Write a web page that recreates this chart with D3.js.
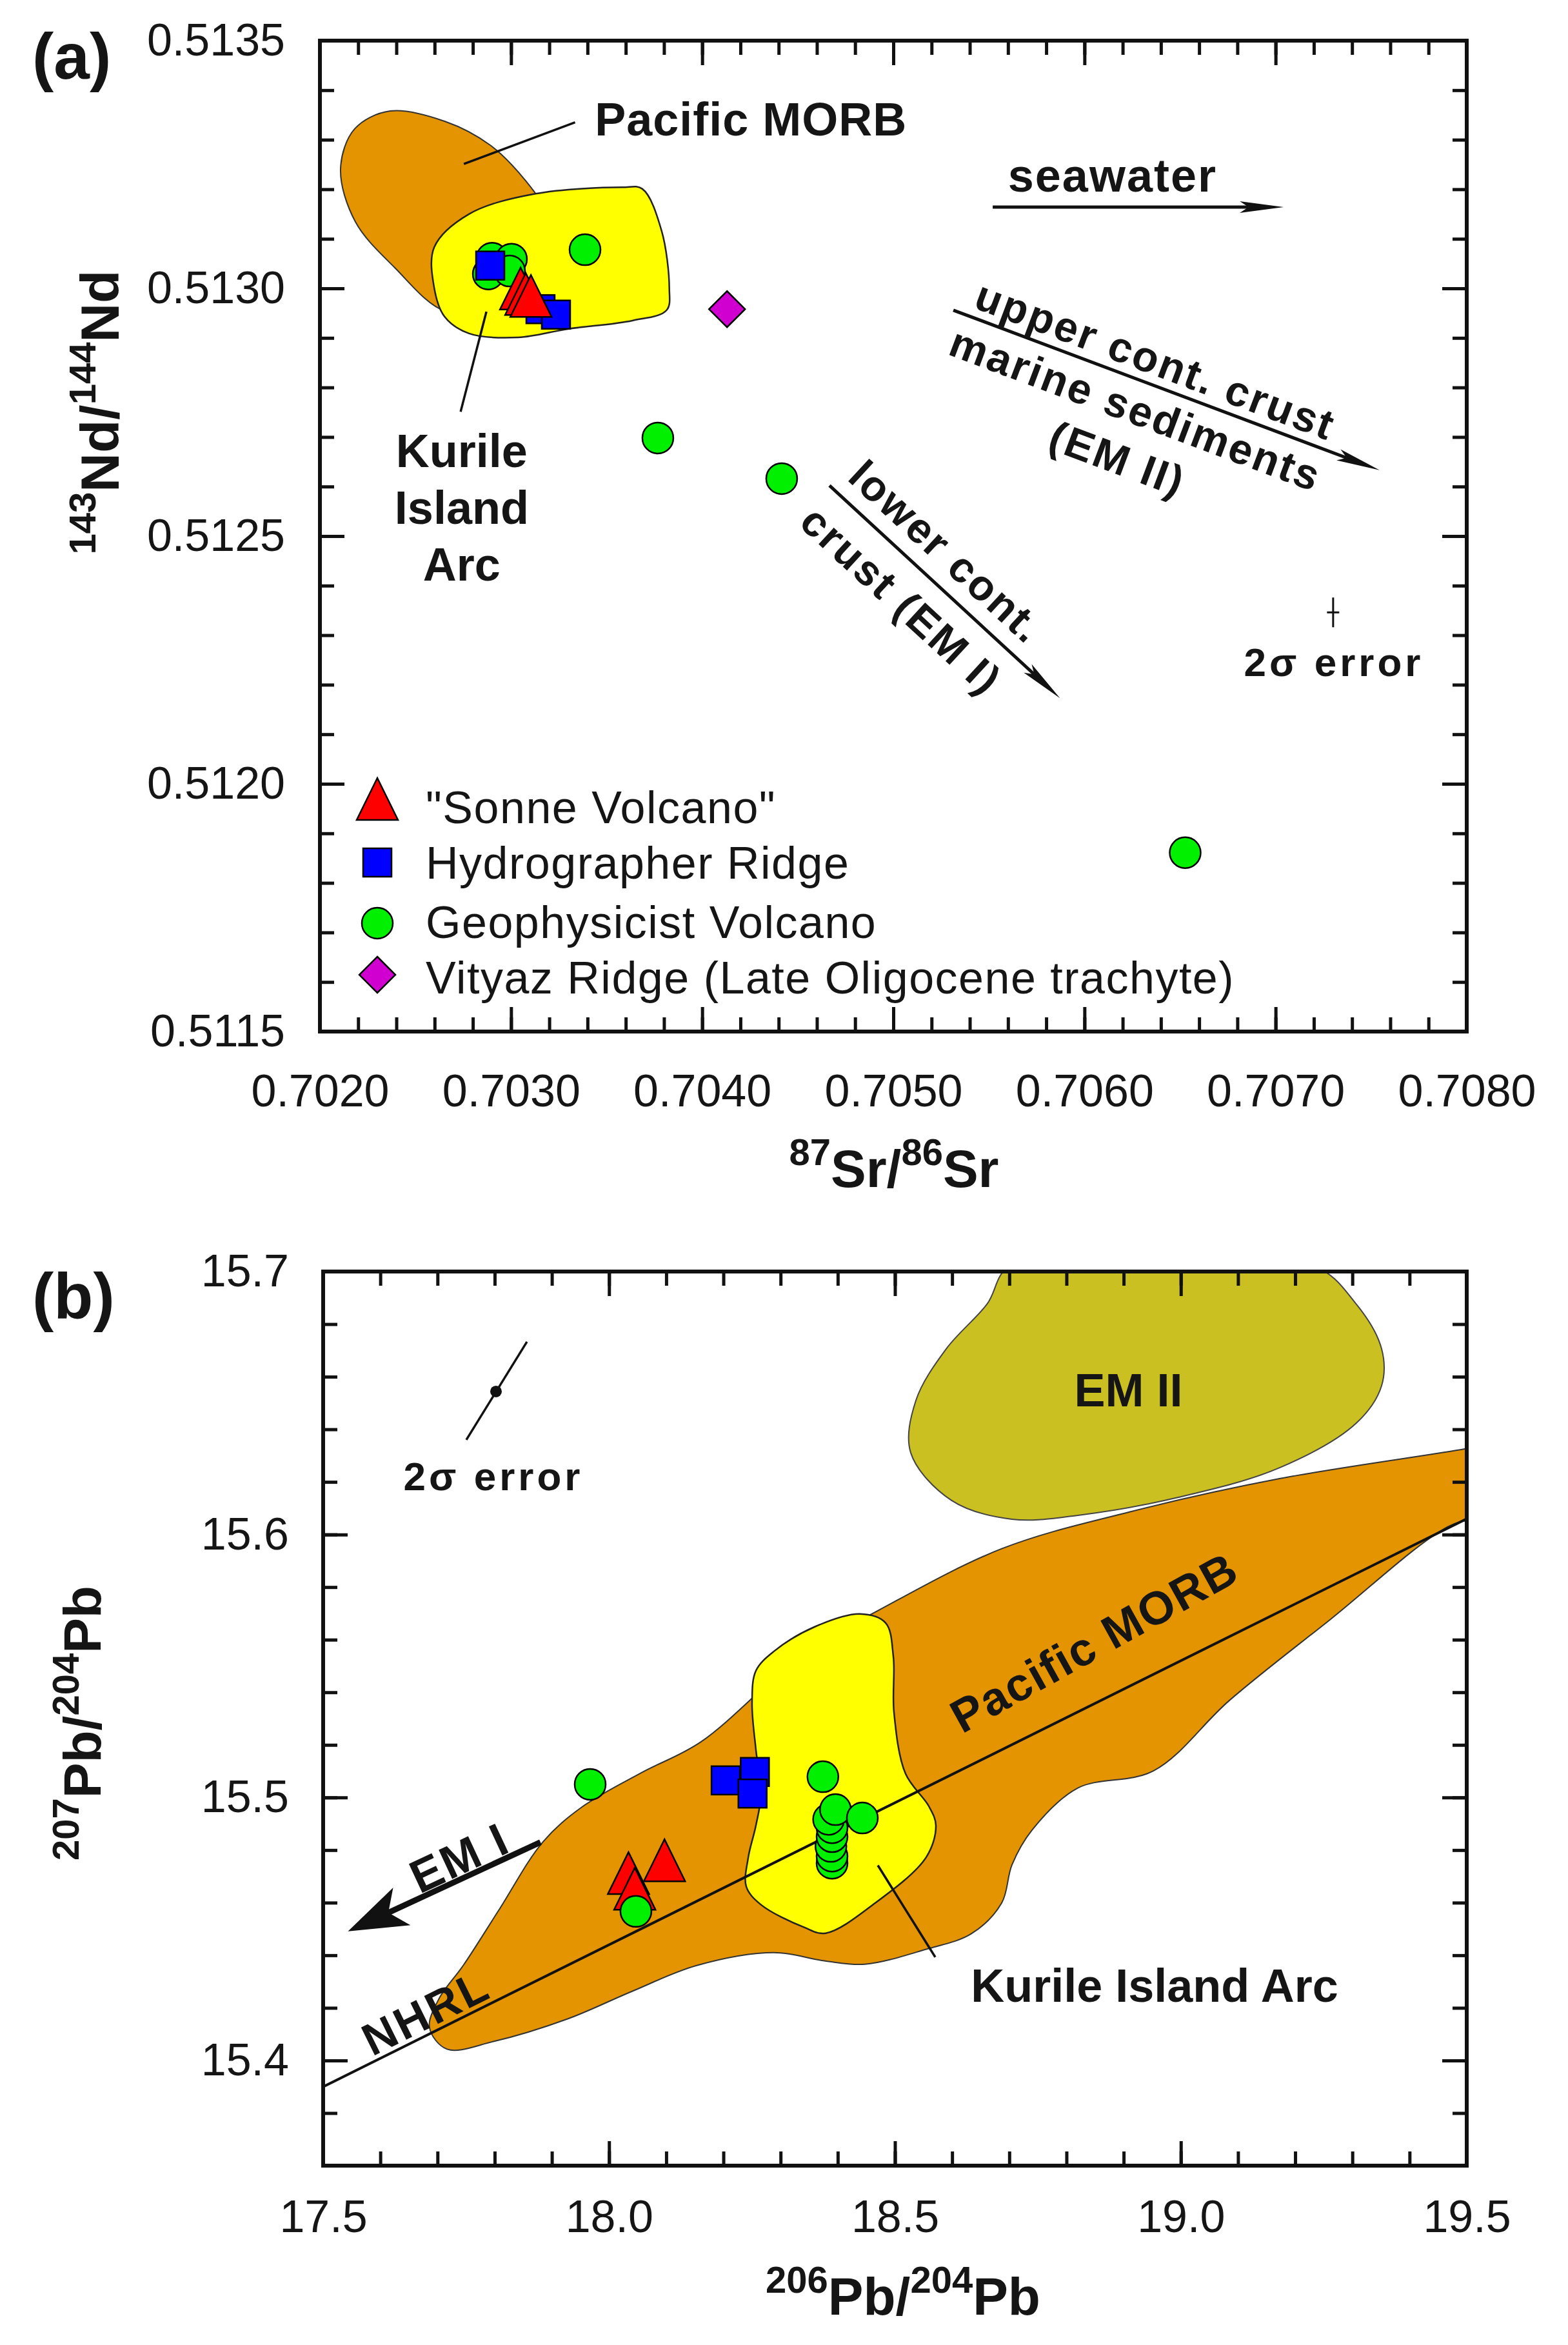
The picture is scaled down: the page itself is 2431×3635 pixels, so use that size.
<!DOCTYPE html>
<html><head><meta charset="utf-8">
<script src="https://cdn.jsdelivr.net/npm/d3@7"></script>
<style>
body{margin:0;background:#fff}
svg text{font-family:"Liberation Sans",Arial,sans-serif;fill:#151515}
</style></head><body>
<script>
// ---------------- DATA : panel (a) 87Sr/86Sr vs 143Nd/144Nd ----------------
const sonneSr = [0.703050, 0.703077, 0.703104];
const sonneNd = [0.512999, 0.512988, 0.512984];
const hydroSr = [0.702891, 0.703154, 0.703235];
const hydroNd = [0.513046, 0.512958, 0.512947];
const geoSr = [0.702901, 0.703002, 0.702881, 0.702992, 0.703387, 0.703768, 0.704416, 0.706527];
const geoNd = [0.513061, 0.513059, 0.513029, 0.513035, 0.513078, 0.512698, 0.512616, 0.511861];
const vityazSr = [0.704130];
const vityazNd = [0.512958];

// fields in panel (a) [Sr, Nd]
const morbFieldA = [[0.702368,0.513358],[0.702655,0.513337],[0.702891,0.513289],[0.703077,0.513217],[0.703211,0.513139],[0.703262,0.513061],[0.703161,0.512996],[0.702925,0.512960],[0.702655,0.512954],[0.702391,0.513042],[0.702186,0.513134],[0.702108,0.513241],[0.702182,0.513322]];
const kurileFieldA = [[0.702598,0.513083],[0.702780,0.513150],[0.703128,0.513191],[0.703581,0.513204],[0.703686,0.513201],[0.703787,0.513117],[0.703828,0.513000],[0.703814,0.512956],[0.703635,0.512935],[0.703297,0.512918],[0.703037,0.512901],[0.702780,0.512909],[0.702652,0.512943],[0.702598,0.513001]];

// ---------------- DATA : panel (b) 206Pb/204Pb vs 207Pb/204Pb ----------------
const sonne206 = [18.034, 18.045, 18.097];
const sonne207 = [15.4711, 15.4652, 15.4760];
const hydro206 = [18.204, 18.255, 18.251];
const hydro207 = [15.5065, 15.5097, 15.5015];
const geo206 = [17.967, 18.047, 18.374, 18.390, 18.390, 18.388, 18.390, 18.390, 18.384, 18.396, 18.443];
const geo207 = [15.5050, 15.4567, 15.5079, 15.4750, 15.4777, 15.4814, 15.4851, 15.4885, 15.4917, 15.4954, 15.4922];
const nhrl206 = [17.5, 19.5];
const nhrl207 = [15.390, 15.606];

const morbFieldB = [[17.7166,15.4043],[17.6861,15.4124],[17.7019,15.4232],[17.7459,15.4364],[17.8068,15.4570],[17.8847,15.4832],[17.9535,15.4965],[18.0572,15.5095],[18.1610,15.5212],[18.3449,15.5556],[18.4656,15.5705],[18.6867,15.5946],[18.9089,15.6085],[19.1740,15.6213],[19.4977,15.6326],[19.5519,15.6350],[19.5519,15.6095],[19.4662,15.6029],[19.2620,15.5678],[19.0849,15.5369],[18.9529,15.5102],[18.8198,15.5036],[18.7397,15.4876],[18.7047,15.4744],[18.6867,15.4599],[18.6337,15.4482],[18.5547,15.4423],[18.4475,15.4366],[18.3765,15.4379],[18.2885,15.4410],[18.1531,15.4361],[18.0403,15.4263],[17.9275,15.4158],[17.7978,15.4072]];
const kurileFieldB = [[18.2885,15.5556],[18.3596,15.5649],[18.4385,15.5698],[18.4836,15.5664],[18.4972,15.5536],[18.4983,15.5325],[18.5186,15.5090],[18.5592,15.4967],[18.5716,15.4894],[18.5547,15.4773],[18.4656,15.4599],[18.3787,15.4484],[18.3415,15.4506],[18.2659,15.4592],[18.2400,15.4661],[18.2434,15.4771],[18.2569,15.4894],[18.2659,15.5016],[18.2569,15.5181],[18.2501,15.5360],[18.2569,15.5482]];
const em2FieldB = [[18.7047,15.7027],[19.2270,15.7027],[19.3071,15.6875],[19.3511,15.6706],[19.3511,15.6566],[19.3071,15.6424],[19.1740,15.6255],[18.9969,15.6142],[18.8198,15.6073],[18.7047,15.6058],[18.5987,15.6130],[18.5276,15.6311],[18.5367,15.6510],[18.5897,15.6706],[18.6607,15.6875]];

// tick labels
const xTickLabelsA = ["0.7020","0.7030","0.7040","0.7050","0.7060","0.7070","0.7080"];
const yTickLabelsA = ["0.5115","0.5120","0.5125","0.5130","0.5135"];
const xTickLabelsB = ["17.5","18.0","18.5","19.0","19.5"];
const yTickLabelsB = ["15.4","15.5","15.6","15.7"];
const legendLabels = ["\"Sonne Volcano\"","Hydrographer Ridge","Geophysicist Volcano","Vityaz Ridge (Late Oligocene trachyte)"];

// ---------------- SETUP ----------------
const COL = {orange:"#E39400", yellow:"#FFFF00", em2:"#CBC022", red:"#FF0000", blue:"#0000FF", green:"#00F000", magenta:"#D000D0"};
const svg = d3.select("body").append("svg").attr("width",2431).attr("height",3635);
svg.append("rect").attr("width",2431).attr("height",3635).attr("fill","#fff");

const xA = d3.scaleLinear().domain([0.7020,0.7080]).range([496,2274]);
const yA = d3.scaleLinear().domain([0.5115,0.5135]).range([1599,63]);
const xB = d3.scaleLinear().domain([17.5,19.5]).range([501,2274]);
const yB = d3.scaleLinear().domain([15.36,15.7]).range([3357,1971]);

function drawAxes(g, x, y, xMaj, xMin, yMaj, yMin, xLab, yLab, xPad, yPad){
  const [xl,xr]=x.range(), [yb,yt]=y.range();
  const style = s => { s.select(".domain").remove(); s.selectAll("line").attr("stroke","#111").attr("stroke-width",5);
    s.attr("font-size",70).attr("font-family","'Liberation Sans',Arial,sans-serif");
    s.selectAll("text").attr("fill","#151515"); };
  g.append("g").attr("transform",`translate(0,${yb})`).call(d3.axisBottom(x).tickValues(xMin).tickSize(-22).tickFormat("")).call(style);
  g.append("g").attr("transform",`translate(0,${yb})`).call(d3.axisBottom(x).tickValues(xMaj).tickSize(-38).tickPadding(xPad).tickFormat((d,i)=>xLab[i])).call(style);
  g.append("g").attr("transform",`translate(0,${yt})`).call(d3.axisTop(x).tickValues(xMin).tickSize(-22).tickFormat("")).call(style);
  g.append("g").attr("transform",`translate(0,${yt})`).call(d3.axisTop(x).tickValues(xMaj).tickSize(-38).tickFormat("")).call(style);
  g.append("g").attr("transform",`translate(${xl},0)`).call(d3.axisLeft(y).tickValues(yMin).tickSize(-22).tickFormat("")).call(style);
  g.append("g").attr("transform",`translate(${xl},0)`).call(d3.axisLeft(y).tickValues(yMaj).tickSize(-38).tickPadding(yPad).tickFormat((d,i)=>yLab[i])).call(style);
  g.append("g").attr("transform",`translate(${xr},0)`).call(d3.axisRight(y).tickValues(yMin).tickSize(-22).tickFormat("")).call(style);
  g.append("g").attr("transform",`translate(${xr},0)`).call(d3.axisRight(y).tickValues(yMaj).tickSize(-38).tickFormat("")).call(style);
  g.append("rect").attr("x",xl).attr("y",yt).attr("width",xr-xl).attr("height",yb-yt)
    .attr("fill","none").attr("stroke","#111").attr("stroke-width",6);
}

function supTitle(g, parts, mainSize, supSize, rise){
  const t = g.append("text").attr("font-weight","bold").attr("font-size",mainSize);
  let raised=false;
  parts.forEach(p=>{
    const ts=t.append("tspan").text(p.t);
    if(p.sup){ ts.attr("font-size",supSize).attr("dy", raised?0:-rise); raised=true; }
    else { ts.attr("dy", raised?rise:0); raised=false; }
  });
  return t;
}

function marker(sel, type){
  if(type==="tri") return sel.append("path").attr("d","M0,-33L32,32L-32,32Z");
  if(type==="sq") return sel.append("rect").attr("x",-22).attr("y",-22).attr("width",44).attr("height",44);
  if(type==="circ") return sel.append("circle").attr("r",24);
  if(type==="dia") return sel.append("path").attr("d","M0,-28L28,0L0,28L-28,0Z");
}
function plotSeries(g, xs, ys, x, y, type, color){
  xs.forEach((v,i)=>{
    const m = g.append("g").attr("transform",`translate(${x(v)},${y(ys[i])})`);
    marker(m,type).attr("fill",color).attr("stroke","#000").attr("stroke-width",2.5);
  });
}
function arrow(g, p0, p1, w, hl, hh, notch){
  const dx=p1[0]-p0[0], dy=p1[1]-p0[1], L=Math.hypot(dx,dy), ux=dx/L, uy=dy/L, nx=-uy, ny=ux;
  const nb=[p1[0]-ux*hl*notch, p1[1]-uy*hl*notch];
  g.append("line").attr("x1",p0[0]).attr("y1",p0[1]).attr("x2",nb[0]).attr("y2",nb[1]).attr("stroke","#111").attr("stroke-width",w);
  const b1=[p1[0]-ux*hl+nx*hh, p1[1]-uy*hl+ny*hh], b2=[p1[0]-ux*hl-nx*hh, p1[1]-uy*hl-ny*hh];
  g.append("path").attr("d",`M${p1}L${b1}L${nb}L${b2}Z`).attr("fill","#111");
}
const field = (x,y)=> d3.line().x(d=>x(d[0])).y(d=>y(d[1])).curve(d3.curveCatmullRomClosed.alpha(0.5));
function label(g, txt, px, py, size, opts={}){
  return g.append("text").attr("x",px).attr("y",py).attr("font-size",size)
    .attr("font-weight",opts.bold===false?"normal":"bold").attr("text-anchor",opts.anchor||"middle")
    .attr("letter-spacing",opts.ls||0).attr("transform",opts.rot?`rotate(${opts.rot},${px},${py})`:null)
    .attr("dy",opts.dy||0).text(txt);
}

// ================= PANEL A =================
const gA = svg.append("g");
svg.append("clipPath").attr("id","clipA").append("rect").attr("x",496).attr("y",63).attr("width",1778).attr("height",1536);
const fA = gA.append("g").attr("clip-path","url(#clipA)");
fA.append("path").attr("d",field(xA,yA)(morbFieldA)).attr("fill",COL.orange).attr("stroke","#333").attr("stroke-width",2);
fA.append("path").attr("d",field(xA,yA)(kurileFieldA)).attr("fill",COL.yellow).attr("stroke","#222").attr("stroke-width",2.5);

// leader lines & labels
gA.append("line").attr("x1",xA(0.703335)).attr("y1",yA(0.513335)).attr("x2",xA(0.702753)).attr("y2",yA(0.513251)).attr("stroke","#111").attr("stroke-width",3.5);
gA.append("line").attr("x1",xA(0.702871)).attr("y1",yA(0.512953)).attr("x2",xA(0.702736)).attr("y2",yA(0.512751)).attr("stroke","#111").attr("stroke-width",3.5);
label(gA,"Pacific MORB",xA(0.703438),yA(0.513309),72,{anchor:"start",ls:1});
label(gA,"Kurile",xA(0.702742),yA(0.512639),72);
label(gA,"Island",xA(0.702742),yA(0.512525),72);
label(gA,"Arc",xA(0.702742),yA(0.512410),72);

// trend arrows
arrow(gA,[xA(0.705520),yA(0.513164)],[xA(0.707042),yA(0.513164)],5,68,9,0.8);
label(gA,"seawater",xA(0.706147),yA(0.513195),72,{ls:2});
arrow(gA,[xA(0.705314),yA(0.512956)],[xA(0.707544),yA(0.512633)],5,68,9,0.8);
const angU = Math.atan2(yA(0.512633)-yA(0.512956), xA(0.707544)-xA(0.705314))*180/Math.PI;
label(gA,"upper cont. crust",xA(0.706373),yA(0.512856),66,{rot:angU,ls:3,dy:"0.36em"});
label(gA,"marine sediments",xA(0.706269),yA(0.512757),66,{rot:angU,ls:3,dy:"0.36em"});
label(gA,"(EM II)",xA(0.706174),yA(0.512657),66,{rot:angU,ls:3,dy:"0.36em"});
arrow(gA,[xA(0.704666),yA(0.512602)],[xA(0.705872),yA(0.512173)],5,68,9,0.8);
const angL = Math.atan2(yA(0.512173)-yA(0.512602), xA(0.705872)-xA(0.704666))*180/Math.PI;
label(gA,"lower cont.",xA(0.705280),yA(0.512469),66,{rot:angL,ls:3,dy:"0.36em"});
label(gA,"crust (EM I)",xA(0.705044),yA(0.512371),66,{rot:angL,ls:3,dy:"0.36em"});

// 2 sigma error (a)
gA.append("line").attr("x1",xA(0.707301)).attr("x2",xA(0.707301)).attr("y1",yA(0.512376)).attr("y2",yA(0.512316)).attr("stroke","#111").attr("stroke-width",3);
gA.append("line").attr("x1",xA(0.707269)).attr("x2",xA(0.707333)).attr("y1",yA(0.512346)).attr("y2",yA(0.512346)).attr("stroke","#111").attr("stroke-width",3);
label(gA,"2σ error",xA(0.707305),yA(0.512217),62,{ls:5});

// data points (a)
const pA = gA.append("g");
plotSeries(pA, geoSr, geoNd, xA, yA, "circ", COL.green);
plotSeries(pA, vityazSr, vityazNd, xA, yA, "dia", COL.magenta);
plotSeries(pA, hydroSr, hydroNd, xA, yA, "sq", COL.blue);
plotSeries(pA, sonneSr, sonneNd, xA, yA, "tri", COL.red);

// legend (a)
const legTypes = [["tri",COL.red],["sq",COL.blue],["circ",COL.green],["dia",COL.magenta]];
const legY = [1239, 1337, 1431, 1511], legBase=[1276,1362,1454,1540];
legTypes.forEach((t,i)=>{
  const m = gA.append("g").attr("transform",`translate(585,${legY[i]})`);
  marker(m,t[0]).attr("fill",t[1]).attr("stroke","#000").attr("stroke-width",2.5);
  label(gA,legendLabels[i],660,legBase[i],70,{anchor:"start",bold:false,ls:1.5});
});

drawAxes(gA,xA,yA,
  d3.range(7).map(i=>0.7020+i*0.001), d3.range(31).map(i=>0.7020+i*0.0002),
  d3.range(5).map(i=>0.5115+i*0.0005), d3.range(21).map(i=>0.5115+i*0.0001),
  xTickLabelsA, yTickLabelsA, 66, 54);

// titles (a)
supTitle(gA,[{t:"87",sup:true},{t:"Sr/"},{t:"86",sup:true},{t:"Sr"}],82,58,34)
  .attr("x",1386).attr("y",1840).attr("text-anchor","middle");
supTitle(gA,[{t:"143",sup:true},{t:"Nd/"},{t:"144",sup:true},{t:"Nd"}],84,58,36)
  .attr("transform","translate(184,639) rotate(-90)").attr("text-anchor","middle");
label(gA,"(a)",50,122,100,{anchor:"start"});

// ================= PANEL B =================
const gB = svg.append("g");
svg.append("clipPath").attr("id","clipB").append("rect").attr("x",501).attr("y",1971).attr("width",1773).attr("height",1386);
const fB = gB.append("g").attr("clip-path","url(#clipB)");
fB.append("path").attr("d",field(xB,yB)(morbFieldB)).attr("fill",COL.orange).attr("stroke","#333").attr("stroke-width",2);
fB.append("path").attr("d",field(xB,yB)(em2FieldB)).attr("fill",COL.em2).attr("stroke","#444").attr("stroke-width",2);
fB.append("path").attr("d",field(xB,yB)(kurileFieldB)).attr("fill",COL.yellow).attr("stroke","#222").attr("stroke-width",2.5);
fB.append("line").attr("x1",xB(nhrl206[0])).attr("y1",yB(nhrl207[0])).attr("x2",xB(nhrl206[1])).attr("y2",yB(nhrl207[1])).attr("stroke","#111").attr("stroke-width",4);

const angN = Math.atan2(yB(nhrl207[1])-yB(nhrl207[0]), xB(nhrl206[1])-xB(nhrl206[0]))*180/Math.PI;
label(gB,"NHRL",xB(17.6794),yB(15.4185),70,{rot:angN,ls:4,dy:"0.36em"});
label(gB,"Pacific MORB",xB(18.848),yB(15.5592),72,{rot:-29,ls:2,dy:"0.36em"});
label(gB,"EM II",xB(18.9083),yB(15.6551),72,{dy:"0.36em"});
label(gB,"Kurile Island Arc",xB(18.954),yB(15.4222),72);
gB.append("line").attr("x1",xB(18.4701)).attr("y1",yB(15.4742)).attr("x2",xB(18.5705)).attr("y2",yB(15.4393)).attr("stroke","#111").attr("stroke-width",3.5);

// EM I arrow
arrow(gB,[xB(17.8801),yB(15.4830)],[xB(17.5434),yB(15.4491)],9,92,32,0.75);
label(gB,"EM I",xB(17.738),yB(15.4773),72,{rot:-25,ls:3,dy:"0.36em"});

// 2 sigma (b)
gB.append("line").attr("x1",xB(17.7504)).attr("y1",yB(15.6360)).attr("x2",xB(17.8564)).attr("y2",yB(15.6733)).attr("stroke","#111").attr("stroke-width",3.5);
gB.append("circle").attr("cx",xB(17.8023)).attr("cy",yB(15.6544)).attr("r",9).attr("fill","#111");
label(gB,"2σ error",xB(17.7978),yB(15.6169),62,{ls:5});

// data points (b)
const pB = gB.append("g");
plotSeries(pB, hydro206, hydro207, xB, yB, "sq", COL.blue);
plotSeries(pB, sonne206, sonne207, xB, yB, "tri", COL.red);
plotSeries(pB, geo206, geo207, xB, yB, "circ", COL.green);

drawAxes(gB,xB,yB,
  [17.5,18,18.5,19,19.5], d3.range(21).map(i=>17.5+i*0.1),
  [15.4,15.5,15.6,15.7], d3.range(18).map(i=>15.36+i*0.02),
  xTickLabelsB, yTickLabelsB, 53, 53);

supTitle(gB,[{t:"206",sup:true},{t:"Pb/"},{t:"204",sup:true},{t:"Pb"}],82,58,34)
  .attr("x",1400).attr("y",3588).attr("text-anchor","middle");
supTitle(gB,[{t:"207",sup:true},{t:"Pb/"},{t:"204",sup:true},{t:"Pb"}],82,58,34)
  .attr("transform","translate(156,2671) rotate(-90)").attr("text-anchor","middle");
label(gB,"(b)",50,2044,100,{anchor:"start"});
</script></body></html>
